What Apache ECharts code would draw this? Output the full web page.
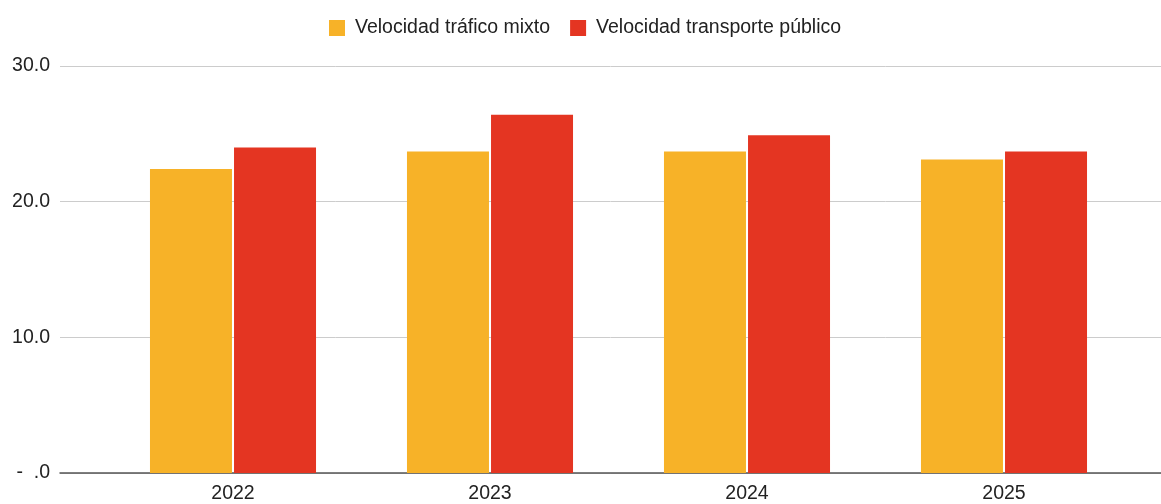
<!DOCTYPE html>
<html>
<head>
<meta charset="utf-8">
<script src="https://cdn.jsdelivr.net/npm/echarts@6/dist/echarts.min.js"></script>
<style>
html,body{margin:0;padding:0;background:#fff;}
#chart{width:1161px;height:504px;}
</style>
</head>
<body>
<div id="chart"></div>
<script>
const categories = ['2022', '2023', '2024', '2025'];
const seriesNames = ['Velocidad tráfico mixto', 'Velocidad transporte público'];
const traficoMixto = [22.4, 23.7, 23.7, 23.1];
const transportePublico = [24.0, 26.4, 24.9, 23.7];
const yTicks = [0, 10, 20, 30];

const chart = echarts.init(document.getElementById('chart'));
const font = 'Liberation Sans, Arial, sans-serif';
chart.setOption({
  animation: false,
  color: ['#F7B228', '#E43522'],
  legend: {
    top: 13,
    left: 324,
    itemWidth: 16,
    itemHeight: 16,
    itemGap: 20,
    icon: 'rect',
    textStyle: { fontFamily: font, fontSize: 19.5, color: '#222', padding: [0, 0, 0, 5] },
    data: seriesNames
  },
  grid: [
    { left: 60, right: 0, top: 66, bottom: 31 },
    { left: 104.5, right: 28.5, top: 66, bottom: 31 }
  ],
  xAxis: [
    { gridIndex: 0, type: 'value', min: 0, max: 1,
      axisLine: { show: true, lineStyle: { color: '#555', width: 1.5 } },
      axisTick: { show: false }, axisLabel: { show: false }, splitLine: { show: false } },
    { gridIndex: 1, type: 'category', data: categories,
      axisLine: { show: false }, axisTick: { show: false },
      axisLabel: { fontFamily: font, fontSize: 19.5, color: '#222', margin: 11 } }
  ],
  yAxis: [
    { gridIndex: 0, type: 'value', min: yTicks[0], max: yTicks[yTicks.length - 1], interval: 10,
      axisLine: { show: false }, axisTick: { show: false },
      splitLine: { lineStyle: { color: '#ccc', width: 1 } },
      axisLabel: { fontFamily: font, fontSize: 19.5, color: '#222', margin: 10,
        formatter: v => v === 0 ? '-  .0' : v.toFixed(1) } },
    { gridIndex: 1, type: 'value', min: yTicks[0], max: yTicks[yTicks.length - 1], interval: 10,
      show: false }
  ],
  series: [
    { name: seriesNames[0], type: 'bar', xAxisIndex: 1, yAxisIndex: 1,
      data: traficoMixto, barWidth: 82, barGap: '2.5%' },
    { name: seriesNames[1], type: 'bar', xAxisIndex: 1, yAxisIndex: 1,
      data: transportePublico, barWidth: 82, barGap: '2.5%' }
  ]
});
</script>
</body>
</html>
